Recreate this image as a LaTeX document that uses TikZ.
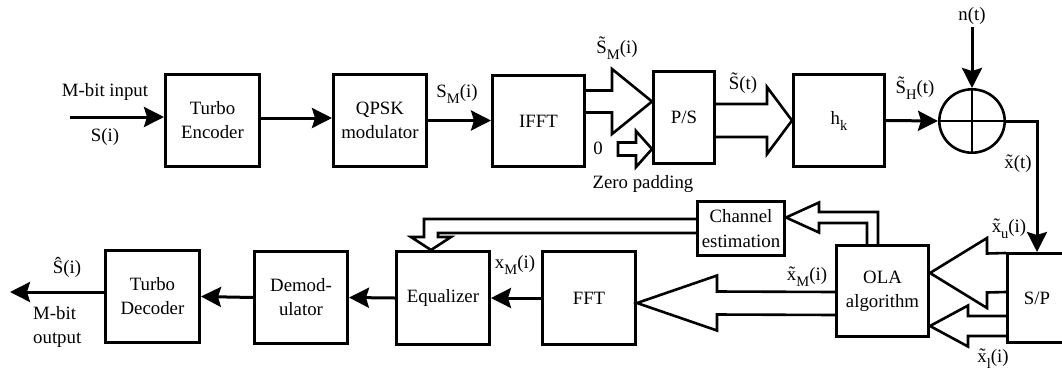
\documentclass[tikz,border=0pt]{standalone}
\usepackage{fontspec}
\setmainfont{Liberation Serif}
\usetikzlibrary{arrows.meta,shapes.geometric,calc}
\newcommand\sbs[1]{\raisebox{-6pt}{\fontsize{14.5}{14.5}\selectfont #1}}
\newcommand\harrow[5]{%
 \draw[hol] ($(#1)+(0,-#3)$) -- ($(#2)+(#5,-#3)$) -- ($(#2)+(#5,-#4)$) -- (#2) -- ($(#2)+(#5,#4)$) -- ($(#2)+(#5,#3)$) -- ($(#1)+(0,#3)$);}
\begin{document}
\begin{tikzpicture}[x=1pt,y=-1pt,
  font=\fontsize{18.8}{24}\selectfont,
  box/.style={draw, line width=2.6pt, inner sep=0pt, align=center},
  conn/.style={line width=3pt, -{Stealth[length=20pt,width=20pt,inset=3pt]}},
  hol/.style={draw, line width=2.6pt, line join=miter},
  lbl/.style={inner sep=0pt, anchor=base}]
\useasboundingbox (0,0) rectangle (1062,373);
% blocks
\node[box, minimum width=94.4pt, minimum height=92.4pt] (enc) at (212.5,120.5) {Turbo\\Encoder};
\node[box, minimum width=93.4pt, minimum height=92.4pt] (qpsk) at (380,120.5) {QPSK\\modulator};
\node[box, minimum width=92.4pt, minimum height=91.4pt] (ifft) at (538.5,121) {IFFT};
\node[box, minimum width=61.4pt, minimum height=92.4pt] (ps) at (684,117.5) {P/S};
\node[box, minimum width=91.4pt, minimum height=92.4pt] (hk) at (839,120.5) {h\sbs{k}};
\node[draw, line width=2.6pt, ellipse, inner sep=0pt, minimum width=65.4pt, minimum height=63.4pt] (sum) at (972,121) {};
\node[box, minimum width=59.4pt, minimum height=89.4pt] (sp) at (1037,298) {S/P};
\node[box, minimum width=92.4pt, minimum height=91.4pt] (ola) at (882.5,291) {OLA\\algorithm};
\node[box, minimum width=87.4pt, minimum height=54.4pt, font=\fontsize{18.8}{25}\selectfont] (ce) at (741,228.5) {Channel\\estimation};
\node[box, minimum width=93.4pt, minimum height=93.4pt] (eq) at (443,298) {Equalizer};
\node[box, minimum width=93.4pt, minimum height=93.4pt] (fft) at (589,298) {FFT};
\node[box, minimum width=93.4pt, minimum height=92.4pt] (demod) at (301,297.5) {Demod-\\ulator};
\node[box, minimum width=94.4pt, minimum height=92.4pt] (dec) at (152.5,296.5) {Turbo\\Decoder};
\draw[line width=2.6pt] (sum.north) -- (sum.south) (sum.west) -- (sum.east);
% labels
\node[lbl] (l-in) at (105,96.7) {M-bit input};
\node[lbl] (l-si) at (105,141) {S(i)};
\node[lbl] (l-sm) at (457,97.7) {S\sbs{M}(i)};
\node[lbl] (l-tsm) at (617,53) {\~{S}\sbs{M}(i)};
\node[lbl] (l-0) at (598,154) {0};
\node[lbl] (l-zp) at (643,188) {Zero padding};
\node[lbl] (l-st) at (743,89) {\~{S}(t)};
\node[lbl] (l-sh) at (915,93) {\~{S}\sbs{H}(t)};
\node[lbl] (l-nt) at (972,20) {n(t)};
\node[lbl] (l-xt) at (1018,168) {\~{x}(t)};
\node[lbl] (l-xu) at (1009,232) {\~{x}\sbs{u}(i)};
\node[lbl] (l-xl) at (993,362) {\~{x}\sbs{l}(i)};
\node[lbl] (l-xm) at (807,280) {\~{x}\sbs{M}(i)};
\node[lbl] (l-xM) at (515,268) {x\sbs{M}(i)};
\node[lbl] (l-sh2) at (67,273) {\^{S}(i)};
\node[lbl, anchor=base west] (l-mb) at (33,319) {M-bit};
\node[lbl, anchor=base west] (l-op) at (33,343) {output};
% plain connectors
\coordinate (in) at (70,117);
\coordinate (out) at (10,292);
\draw[conn] (in) -- (in -| enc.west);
\draw[conn] ($(enc.east)+(0,-2.5)$) -- ($(qpsk.west)+(0,-2.5)$);
\draw[conn] (qpsk.east) -- (ifft.west |- qpsk.east);
\draw[conn] (hk.east) -- (sum.west);
\draw[conn] ($(l-nt.south)+(0,3)$) -- (sum.north);
\draw[conn] (sum.east) -| (sp.north);
\draw[conn] (fft.west) -- (eq.east);
\draw[conn] (eq.west) -- (demod.east);
\draw[conn] (demod.west) -- (dec.east);
\draw[conn] (out -| dec.west) -- (out);
% hollow arrows
\coordinate (a1) at ($(ifft.east)+(0,-19.5)$);
\coordinate (b1) at ($(ps.west)+(0,-16)$);
\harrow{a1}{b1}{11}{32.5}{-40}
\coordinate (a2) at ($(ps.east)+(0,3)$);
\coordinate (b2) at (hk.west);
\harrow{a2}{b2}{16.5}{33.5}{-25}
\coordinate (b3) at ($(ps.west)+(0,31.5)$);
\draw[hol] ($(b3)+(-34,-6.5)$) -- ($(b3)+(-16,-6.5)$) -- ($(b3)+(-16,-18)$) -- (b3) -- ($(b3)+(-16,18)$) -- ($(b3)+(-16,6.5)$) -- ($(b3)+(-34,6.5)$) -- cycle;
\coordinate (a4) at ($(sp.west)+(0,-25.5)$);
\coordinate (b4) at ($(ola.east)+(0,-18)$);
\harrow{a4}{b4}{19.5}{35}{57}
\coordinate (a5) at ($(sp.west)+(0,28)$);
\coordinate (b5) at ($(ola.east)+(0,35)$);
\harrow{a5}{b5}{10}{20.5}{38}
\coordinate (a6) at ($(ola.west)+(0,12.5)$);
\coordinate (b6) at ($(fft.east)+(0,5)$);
\harrow{a6}{b6}{11.5}{27.5}{80}
% OLA -> channel estimation
\coordinate (t7) at ($(ce.east)+(0,-11)$);
\draw[hol] ($(ola.north)+(-15.5,0)$) |- ($(t7)+(33,5.5)$) -- ($(t7)+(33,15)$) -- (t7) -- ($(t7)+(33,-15)$) -- ($(t7)+(33,-5.5)$) -| ($(ola.north)+(-4.5,0)$);
% channel estimation -> equalizer
\coordinate (t8) at ($(eq.north)+(-12,0)$);
\draw[hol] ($(ce.west)+(0,-9.5)$) -| ($(t8)+(-7,-13)$) -- ($(t8)+(-20,-13)$) -- (t8) -- ($(t8)+(20,-13)$) -- ($(t8)+(7,-13)$) |- ($(ce.west)+(0,4.5)$);
\end{tikzpicture}
\end{document}
